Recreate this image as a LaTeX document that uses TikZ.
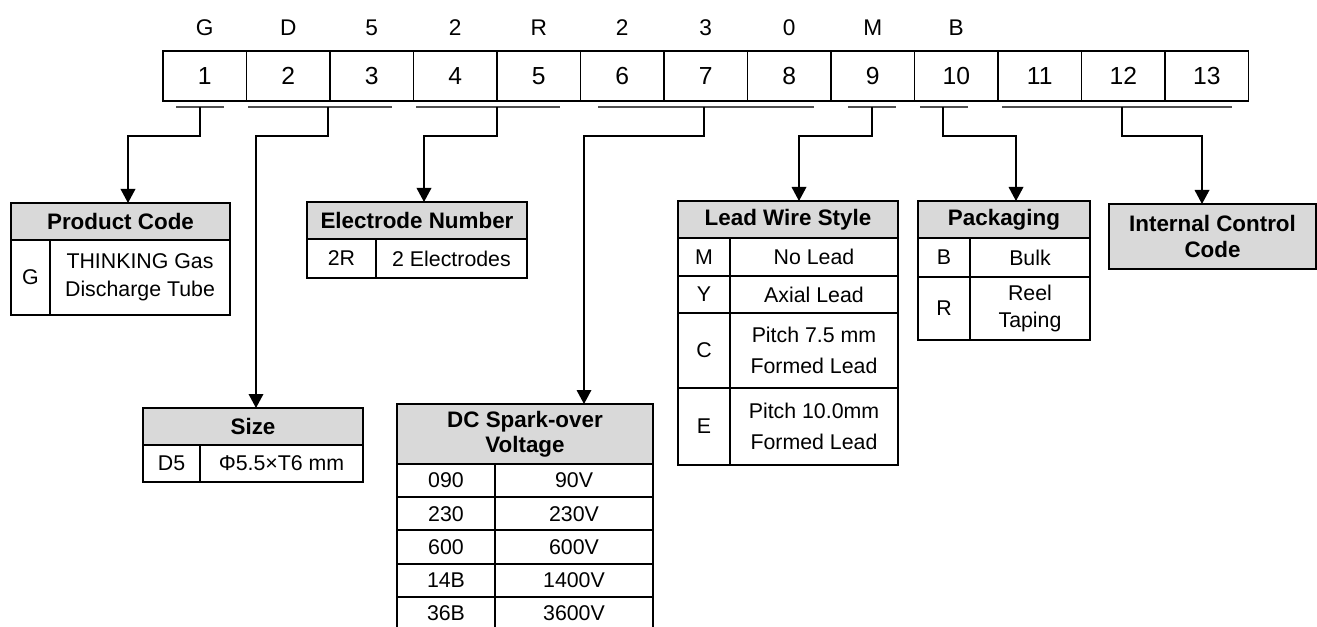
\documentclass[tikz,border=0pt]{standalone}
\usepackage{fontspec}
\setmainfont{Liberation Sans}
\usetikzlibrary{arrows.meta}
\definecolor{hdrgray}{RGB}{217,217,217}
\definecolor{linegray}{RGB}{80,80,80}
\tikzset{
  codecell/.style={draw, line width=1.3pt, minimum width=62.625pt, minimum height=37.5pt, inner sep=0pt, outer sep=0pt, font=\fontsize{18.5}{20}\selectfont},
  codeletter/.style={inner sep=0pt, anchor=base, font=\fontsize{17}{19}\selectfont},
  uline/.style={draw=linegray, line width=1.1pt},
  link/.style={draw, line width=1pt, -{Triangle[width=11pt,length=10.5pt]}},
  tcell/.style 2 args={draw, line width=1.5pt, minimum width=#1*0.75pt, minimum height=#2*0.75pt, inner sep=0pt, outer sep=0pt, align=center, anchor=north west, font=\fontsize{16}{20.7}\selectfont},
  thead/.style={fill=hdrgray, font=\fontsize{16.8}{20}\selectfont\bfseries},
}
\begin{document}
\begin{tikzpicture}[x=0.75pt, y=-0.75pt]
  \useasboundingbox (0,0) rectangle (1317,627);
  \clip (0,0) rectangle (1317,627);

  % Code boxes and letters
  \foreach \i in {1,...,13}
    \node[codecell] (c\i) at ({204.75+83.5*(\i-1)},75.7) {\i};
  \foreach \t [count=\i] in {G,D,5,2,R,2,3,0,M,B}
    \node[codeletter] (t\i) at ({204.75+83.5*(\i-1)},36) {\t};

  % Group underlines
  \draw[uline] (176,107) -- (224,107);
  \draw[uline] (248,107) -- (392,107);
  \draw[uline] (416,107) -- (560,107);
  \draw[uline] (598,107) -- (814,107);
  \draw[uline] (848,107) -- (896,107);
  \draw[uline] (920,107) -- (968,107);
  \draw[uline] (1002,107) -- (1232,107);

  % Drop points and knees
  \coordinate (d1) at (200,107);  \coordinate (k1) at (128,136);
  \coordinate (d2) at (328,107);  \coordinate (k2) at (256,136);
  \coordinate (d3) at (497,107);  \coordinate (k3) at (424,136);
  \coordinate (d4) at (704,107);  \coordinate (k4) at (584,136);
  \coordinate (d5) at (872,107);  \coordinate (k5) at (799,136);
  \coordinate (d6) at (943,107);  \coordinate (k6) at (1016,136);
  \coordinate (d7) at (1122,107); \coordinate (k7) at (1202,136);

  % Product code
  \node[tcell={219}{37}, thead] (pc) at (11,203) {Product Code};
  \node[tcell={39}{75}] (pcG) at (pc.south west) {G};
  \node[tcell={180}{75}] (pcGt) at (pcG.north east) {THINKING Gas\\Discharge Tube};

  % Electrode number
  \node[tcell={220}{37}, thead] (en) at (307,202) {Electrode Number};
  \node[tcell={69}{39}] (en2R) at (en.south west) {2R};
  \node[tcell={151}{39}] (en2Rt) at (en2R.north east) {2 Electrodes};

  % Size
  \node[tcell={220}{37}, thead] (sz) at (143,408) {Size};
  \node[tcell={57}{37}] (szD5) at (sz.south west) {D5};
  \node[tcell={163}{37}] (szD5t) at (szD5.north east) {Φ5.5×T6 mm};

  % DC spark-over voltage
  \node[tcell={256}{60}, thead, font=\fontsize{16.8}{18.75}\selectfont\bfseries] (dc) at (397,404) {DC Spark-over\\Voltage};
  \foreach \code/\volt [count=\r] in {090/90V,230/230V,600/600V,14B/1400V,36B/3600V} {
    \node[tcell={98}{33.2}] (dcc\r) at (397,{464+33.2*(\r-1)}) {\code};
    \node[tcell={158}{33.2}] (dcv\r) at (dcc\r.north east) {\volt};
  }

  % Lead wire style
  \node[tcell={220}{37}, thead] (lw) at (678,201) {Lead Wire Style};
  \node[tcell={52}{38}] (lwM) at (lw.south west) {M};
  \node[tcell={168}{38}] (lwMt) at (lwM.north east) {No Lead};
  \node[tcell={52}{37}] (lwY) at (lwM.south west) {Y};
  \node[tcell={168}{37}] (lwYt) at (lwY.north east) {Axial Lead};
  \node[tcell={52}{75}] (lwC) at (lwY.south west) {C};
  \node[tcell={168}{75}] (lwCt) at (lwC.north east) {Pitch 7.5 mm\\[3pt]Formed Lead};
  \node[tcell={52}{77}] (lwE) at (lwC.south west) {E};
  \node[tcell={168}{77}] (lwEt) at (lwE.north east) {Pitch 10.0mm\\[3pt]Formed Lead};

  % Packaging
  \node[tcell={172}{37}, thead] (pk) at (918,201) {Packaging};
  \node[tcell={52}{39}] (pkB) at (pk.south west) {B};
  \node[tcell={120}{39}] (pkBt) at (pkB.north east) {Bulk};
  \node[tcell={52}{63}] (pkR) at (pkB.south west) {R};
  \node[tcell={120}{63}] (pkRt) at (pkR.north east) {Reel\\Taping};

  % Internal control code
  \node[tcell={207}{65}, thead] (ic) at (1109,204) {Internal Control\\Code};

  % Connectors
  \draw[link] (d1) |- (k1) -- (k1 |- pc.north);
  \draw[link] (d2) |- (k2) -- (k2 |- sz.north);
  \draw[link] (d3) |- (k3) -- (k3 |- en.north);
  \draw[link] (d4) |- (k4) -- (k4 |- dc.north);
  \draw[link] (d5) |- (k5) -- (k5 |- lw.north);
  \draw[link] (d6) |- (k6) -- (k6 |- pk.north);
  \draw[link] (d7) |- (k7) -- (k7 |- ic.north);
\end{tikzpicture}
\end{document}
